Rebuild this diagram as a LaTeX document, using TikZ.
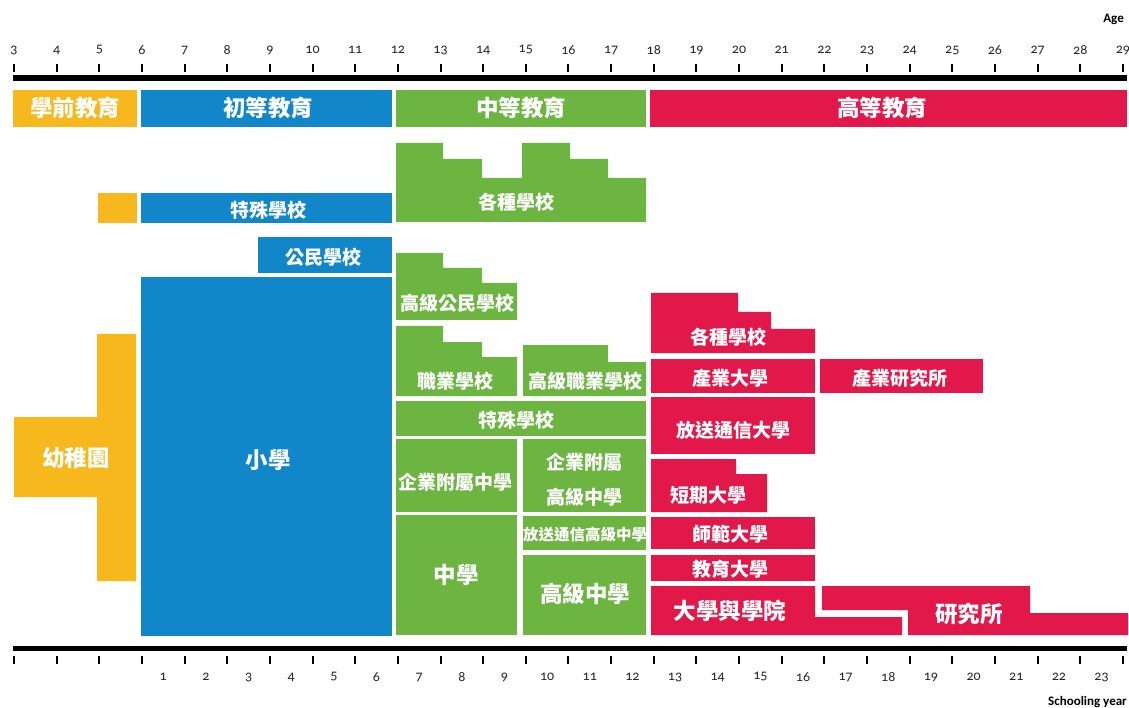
\documentclass[tikz,border=0pt]{standalone}
\usepackage{fontspec}
\setmainfont{Carlito}[Numbers=OldStyle]
\newfontfamily\cjk{Noto Sans CJK TC}
\definecolor{cOrange}{HTML}{F7B81E}
\definecolor{cBlue}{HTML}{1187CA}
\definecolor{cGreen}{HTML}{6CB540}
\definecolor{cRed}{HTML}{E2184A}
\begin{document}
\begin{tikzpicture}[x=1pt,y=-1pt,
  lbl/.style={text=white,inner sep=0pt,font=\cjk\bfseries\fontsize{19}{19}\selectfont},
  lblbig/.style={text=white,inner sep=0pt,font=\cjk\bfseries\fontsize{22.5}{22.5}\selectfont},
  lblsmall/.style={text=white,inner sep=0pt,font=\cjk\bfseries\fontsize{15.5}{15.5}\selectfont},
  num/.style={inner sep=0pt,font=\fontsize{14}{14}\selectfont,text=black!85},
  tick/.style={line width=2pt,black}]
\useasboundingbox (0,0) rectangle (1129,708);
\fill[white] (0,0) rectangle (1129,708);
% axes
\fill[black] (13,75) rectangle (1127,81);
\fill[black] (13,646) rectangle (1127,651);
\foreach \a in {3,...,29}{
  \pgfmathsetmacro\xx{14+(\a-3)*42.65}
  \draw[tick] (\xx,64) -- (\xx,72);
  \draw[tick] (\xx,656) -- (\xx,664);
  \node[num] (age\a) at (\xx,50) {\a};
}
\foreach \s in {1,...,23}{
  \pgfmathsetmacro\xx{14+(\s+2.5)*42.65}
  \node[num] (sy\s) at (\xx,677) {\s};
}
\node[inner sep=0pt,font=\bfseries\fontsize{13}{13}\selectfont,anchor=east] (agelbl) at (1124,19) {Age};
\node[inner sep=0pt,font=\bfseries\fontsize{13}{13}\selectfont,anchor=east] (sylbl) at (1127,702) {Schooling year};
% header
\fill[cOrange] (13,90) rectangle (137,127);
\fill[cBlue] (141,90) rectangle (392,127);
\fill[cGreen] (396,90) rectangle (646,127);
\fill[cRed] (650,90) rectangle (1127,127);
\node[lblbig] (h1) at (75,108) {學前教育};
\node[lblbig] (h2) at (268,108) {初等教育};
\node[lblbig] (h3) at (521,108) {中等教育};
\node[lblbig] (h4) at (882,108) {高等教育};
% preschool
\fill[cOrange] (98,193) rectangle (137,223);
\fill[cOrange] (97,334) -- (136,334) -- (136,581) -- (97,581) -- (97,497) -- (14,497) -- (14,417) -- (97,417) -- cycle;
\node[lblbig] (kg) at (76,458) {幼稚園};
% primary
\fill[cBlue] (141,193) rectangle (392,223);
\node[lbl] (p1) at (268,210) {特殊學校};
\fill[cBlue] (258,237) rectangle (392,273);
\node[lbl] (p2) at (323,257) {公民學校};
\fill[cBlue] (141,277) rectangle (392,636);
\node[lblbig] (p3) at (268,460) {小學};
% secondary
\fill[cGreen] (396,143) -- (443,143) -- (443,159) -- (482,159) -- (482,178) -- (522,178) -- (522,143) -- (570,143) -- (570,159) -- (608,159) -- (608,178) -- (646,178) -- (646,222) -- (396,222) -- cycle;
\node[lbl] (s1) at (516,202) {各種學校};
\fill[cGreen] (396,253) -- (443,253) -- (443,268) -- (482,268) -- (482,283) -- (517,283) -- (517,320) -- (396,320) -- cycle;
\node[lbl] (s2) at (457,303) {高級公民學校};
\fill[cGreen] (396,326) -- (443,326) -- (443,342) -- (482,342) -- (482,357) -- (517,357) -- (517,396) -- (396,396) -- cycle;
\node[lbl] (s3) at (455,381) {職業學校};
\fill[cGreen] (523,345) -- (608,345) -- (608,362) -- (646,362) -- (646,396) -- (523,396) -- cycle;
\node[lbl] (s4) at (585,381) {高級職業學校};
\fill[cGreen] (396,401) rectangle (646,436);
\node[lbl] (s5) at (516,420) {特殊學校};
\fill[cGreen] (396,439) rectangle (517,512);
\node[lbl] (s6) at (455,482) {企業附屬中學};
\fill[cGreen] (523,439) rectangle (646,512);
\node[lbl] (s7a) at (584,462) {企業附屬};
\node[lbl] (s7b) at (584,497) {高級中學};
\fill[cGreen] (396,515) rectangle (517,635);
\node[lblbig] (s8) at (456,575) {中學};
\fill[cGreen] (523,516) rectangle (646,550);
\node[lblsmall] (s9) at (585,535) {放送通信高級中學};
\fill[cGreen] (523,555) rectangle (646,635);
\node[lblbig] (s10) at (585,594) {高級中學};
% higher
\fill[cRed] (651,293) -- (738,293) -- (738,312) -- (771,312) -- (771,329) -- (815,329) -- (815,353) -- (651,353) -- cycle;
\node[lbl] (u1) at (728,337) {各種學校};
\fill[cRed] (651,359) rectangle (815,393);
\node[lbl] (u2) at (730,378) {產業大學};
\fill[cRed] (820,359) rectangle (983,393);
\node[lbl] (u3) at (900,378) {產業研究所};
\fill[cRed] (651,397) rectangle (815,454);
\node[lbl] (u4) at (733,430) {放送通信大學};
\fill[cRed] (651,459) -- (736,459) -- (736,474) -- (767,474) -- (767,512) -- (651,512) -- cycle;
\node[lbl] (u5) at (708,495) {短期大學};
\fill[cRed] (651,517) rectangle (815,549);
\node[lbl] (u6) at (730,534) {師範大學};
\fill[cRed] (651,555) rectangle (815,581);
\node[lbl] (u7) at (730,569) {教育大學};
\fill[cRed] (651,586) -- (815,586) -- (815,617) -- (902,617) -- (902,635) -- (651,635) -- cycle;
\node[lblbig] (u8) at (730,611) {大學與學院};
\fill[cRed] (822,586) -- (1030,586) -- (1030,613) -- (1128,613) -- (1128,635) -- (908,635) -- (908,610) -- (822,610) -- cycle;
\node[lblbig] (u9) at (969,614) {研究所};
\end{tikzpicture}
\end{document}
